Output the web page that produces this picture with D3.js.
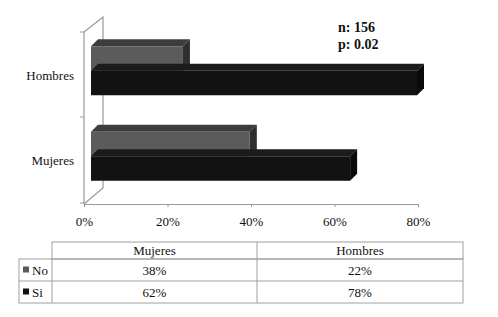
<!DOCTYPE html>
<html><head><meta charset="utf-8">
<script src="https://cdn.jsdelivr.net/npm/d3@7"></script>
<style>body{margin:0;background:#fff}svg{display:block}</style>
</head><body>
<script>
const categories = ["Hombres", "Mujeres"];
const tableCategories = ["Mujeres", "Hombres"];
const seriesNames = ["No", "Si"];
const noValues = {Mujeres: 0.38, Hombres: 0.22};
const siValues = {Mujeres: 0.62, Hombres: 0.78};
const xTicks = [0, 0.2, 0.4, 0.6, 0.8];
const annotation = ["n: 156", "p: 0.02"];

const FONT = "'Liberation Serif'";
const W = 498, H = 317;
const svg = d3.select("body").append("svg").attr("width", W).attr("height", H);

const x = d3.scaleLinear().domain([0, 0.8]).range([84, 418]);
const xBar = d3.scaleLinear().domain([0, 0.78]).range([91, 417]);
const y = d3.scaleBand().domain(categories).range([32, 203]);
const depth = 7;
const colors = {No: {front: "#5b5b5b", top: "#3d3d3d", side: "#2f2f2f"},
                Si: {front: "#121212", top: "#1c1c1c", side: "#0a0a0a"}};

// walls
const wallStroke = "#9a9a9a";
svg.append("path").attr("d", "M84,204 L84,32 L103,17 L103,188 L84,204")
  .attr("fill", "none").attr("stroke", wallStroke).attr("stroke-width", 1.2);

// x axis
const xAxis = d3.axisBottom(x).tickValues(xTicks).tickFormat(d3.format(".0%")).tickSize(3).tickPadding(10);
const ax = svg.append("g").attr("transform", "translate(0,204)").call(xAxis);
ax.attr("font-family", null).attr("font-size", null);
ax.select(".domain").attr("stroke", wallStroke).attr("stroke-width", 1.2);
ax.selectAll(".tick line").attr("stroke", wallStroke);
ax.selectAll("text").attr("font-size", 13).attr("fill", "#111").style("font-family", FONT);

// y axis ticks (band boundaries)
const yBounds = [32, 117, 203];
svg.selectAll(".ytick").data(yBounds).enter().append("line")
  .attr("x1", 80).attr("x2", 84).attr("y1", d => d).attr("y2", d => d)
  .attr("stroke", wallStroke);
svg.selectAll(".ylab").data(categories).enter().append("text")
  .attr("x", 74).attr("y", d => y(d) + y.bandwidth() / 2 + 5)
  .attr("text-anchor", "end").attr("font-size", 13).attr("fill", "#111").style("font-family", FONT).text(d => d);

// bars
const barH = 24.5;
function bar(cat, series, v, yTop) {
  const c = colors[series];
  const x0 = xBar(0), x1 = xBar(v), y0 = yTop, y1 = yTop + barH;
  const bg = svg.append("g");
  bg.append("path").attr("d", `M${x0},${y0} L${x0 + depth},${y0 - depth} L${x1 + depth},${y0 - depth} L${x1},${y0} Z`).attr("fill", c.top);
  bg.append("path").attr("d", `M${x1},${y0} L${x1 + depth},${y0 - depth} L${x1 + depth},${y1 - depth} L${x1},${y1} Z`).attr("fill", c.side);
  bg.append("rect").attr("x", x0).attr("y", y0).attr("width", x1 - x0).attr("height", barH).attr("fill", c.front);
}
categories.forEach(cat => {
  const cy = y(cat) + y.bandwidth() / 2 - 4;
  bar(cat, "No", noValues[cat], cy - barH);
  bar(cat, "Si", siValues[cat], cy);
});

// annotation
svg.selectAll(".ann").data(annotation).enter().append("text")
  .attr("x", 338).attr("y", (d, i) => 32 + i * 17)
  .attr("font-size", 14).attr("font-weight", "bold").attr("fill", "#111").style("font-family", FONT).text(d => d);

// table
const tRowY = [242, 259, 281, 303];
const tStroke = "#a0a0a0";
const tg = svg.append("g");
tg.append("rect").attr("x", 52).attr("y", 242).attr("width", 463 - 52).attr("height", 17).attr("fill", "none").attr("stroke", tStroke);
tg.append("rect").attr("x", 19).attr("y", 259).attr("width", 463 - 19).attr("height", 44).attr("fill", "none").attr("stroke", tStroke);
tg.append("line").attr("x1", 19).attr("x2", 463).attr("y1", 281).attr("y2", 281).attr("stroke", tStroke);
tg.append("line").attr("x1", 52).attr("x2", 52).attr("y1", 259).attr("y2", 303).attr("stroke", tStroke);
tg.append("line").attr("x1", 257).attr("x2", 257).attr("y1", 242).attr("y2", 303).attr("stroke", tStroke);

const colCenters = [154.5, 360];
tableCategories.forEach((cat, i) => {
  tg.append("text").attr("x", colCenters[i]).attr("y", 255).attr("text-anchor", "middle")
    .attr("font-size", 13).attr("fill", "#111").style("font-family", FONT).text(cat);
});
const rows = [{name: "No", vals: noValues}, {name: "Si", vals: siValues}];
rows.forEach((r, j) => {
  const cy = (tRowY[j + 1] + tRowY[j + 2]) / 2;
  tg.append("rect").attr("x", 23).attr("y", cy - 3.5).attr("width", 6).attr("height", 6).attr("fill", colors[r.name].front);
  tg.append("text").attr("x", 32).attr("y", cy + 4.5).attr("font-size", 13).attr("fill", "#111").style("font-family", FONT).text(r.name);
  tableCategories.forEach((cat, i) => {
    tg.append("text").attr("x", colCenters[i]).attr("y", cy + 4.5).attr("text-anchor", "middle")
      .attr("font-size", 13).attr("fill", "#111").style("font-family", FONT).text(d3.format(".0%")(r.vals[cat]));
  });
});
</script>
</body></html>
